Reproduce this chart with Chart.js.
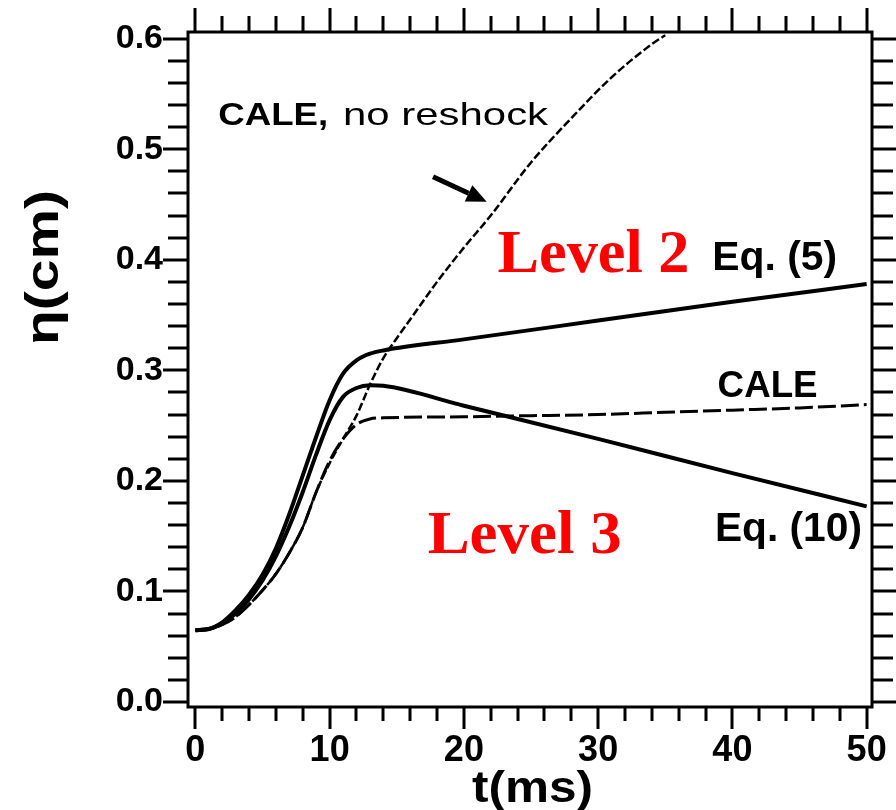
<!DOCTYPE html>
<html><head><meta charset="utf-8">
<script src="https://cdn.jsdelivr.net/npm/chart.js@4.4.0/dist/chart.umd.min.js"></script>
<style>html,body{margin:0;padding:0;background:#fff;}</style>
</head><body>
<canvas id="c" width="896" height="810"></canvas>
<script>
// ---- data (t in ms, eta in cm) ----
const tEq5 = [0,1,2,3,4,5,6,7,8,9,10,11,12,13,14,20,30,40,50];
const etaEq5 = [0.065,0.066,0.072,0.083,0.097,0.115,0.139,0.170,0.205,0.240,0.273,0.297,0.309,0.315,0.318,0.328,0.345,0.362,0.378];

const tEq10 = [0,1,2,3,4,5,6,7,8,9,10,11,12,13,14,20,30,40,50];
const etaEq10 = [0.065,0.066,0.071,0.080,0.093,0.110,0.132,0.159,0.190,0.224,0.255,0.276,0.284,0.2865,0.286,0.268,0.238,0.207,0.177];

const tCALE = [0,1,2,3,4,5,6,7,8,9,10,11,12,13,14,20,25,30,35,40,45,50];
const etaCALE = [0.065,0.066,0.070,0.077,0.088,0.101,0.116,0.135,0.158,0.190,0.218,0.238,0.251,0.256,0.257,0.258,0.259,0.260,0.262,0.264,0.266,0.269];

const tNoReshock = [0,1,2,3,4,5,6,7,8,9,10,11,12,13,14,15,16,18,20,22,25,28,31,34,35];
const etaNoReshock = [0.065,0.066,0.070,0.077,0.088,0.101,0.116,0.135,0.158,0.190,0.216,0.238,0.259,0.287,0.311,0.329,0.346,0.380,0.411,0.440,0.488,0.528,0.565,0.595,0.603];

const xMajorTicks = [0,10,20,30,40,50];
const xMinorTicks = [0,2,4,6,8,10,12,14,16,18,20,22,24,26,28,30,32,34,36,38,40,42,44,46,48,50];
const yMajorTicks = [0,0.1,0.2,0.3,0.4,0.5,0.6];
const yMinorTicks = [0,0.02,0.04,0.06,0.08,0.1,0.12,0.14,0.16,0.18,0.2,0.22,0.24,0.26,0.28,0.3,0.32,0.34,0.36,0.38,0.4,0.42,0.44,0.46,0.48,0.5,0.52,0.54,0.56,0.58,0.6];

const SANS = '"Liberation Sans", Arial, Helvetica, sans-serif';
const SERIF = '"Liberation Serif", "Times New Roman", serif';

function pts(ts, vs){ return ts.map((t,i)=>({x:t, y:vs[i]})); }

function fitText(ctx, str, font, left, baseline, width, color){
  ctx.save();
  ctx.font = font; ctx.fillStyle = color || '#000';
  ctx.textAlign = 'left'; ctx.textBaseline = 'alphabetic';
  const w = ctx.measureText(str).width;
  const sx = width / w;
  ctx.translate(left, baseline); ctx.scale(sx, 1);
  ctx.fillText(str, 0, 0);
  ctx.restore();
}

function noPad(s){ s.paddingTop = 0; s.paddingBottom = 0; s.paddingLeft = 0; s.paddingRight = 0; }

const decor = {
  id: 'decor',
  afterDraw(chart){
    const {ctx, chartArea:a, scales:{x, y}} = chart;
    ctx.save();
    ctx.strokeStyle = '#000'; ctx.lineWidth = 3; ctx.lineCap = 'butt';
    const L = (x1,y1,x2,y2)=>{ctx.beginPath();ctx.moveTo(x1,y1);ctx.lineTo(x2,y2);ctx.stroke();};
    for (const v of xMinorTicks){
      const px = Math.round(x.getPixelForValue(v));
      const maj = xMajorTicks.includes(v);
      L(px, a.bottom, px, a.bottom + (maj?22:14));
      L(px, a.top, px, a.top - (maj?24:16));
    }
    for (const v of yMinorTicks){
      const py = Math.round(y.getPixelForValue(v));
      const maj = yMajorTicks.some(m=>Math.abs(m-v)<1e-9);
      L(a.left, py, a.left - (maj?25:20), py);
      L(a.right, py, a.right + (maj?24:21), py);
    }
    ctx.strokeRect(a.left, a.top, a.right-a.left, a.bottom-a.top);

    // arrow
    const tx = x.getPixelForValue(17.7), ty = y.getPixelForValue(0.475);
    const hx = x.getPixelForValue(21.7), hy = y.getPixelForValue(0.4525);
    const ang = Math.atan2(hy-ty, hx-tx);
    const hl = 20, hw = 9;
    const bx = hx - hl*Math.cos(ang), by = hy - hl*Math.sin(ang);
    ctx.lineWidth = 5;
    L(tx, ty, bx, by);
    ctx.fillStyle = '#000';
    ctx.beginPath();
    ctx.moveTo(hx, hy);
    ctx.lineTo(bx + hw*Math.sin(ang), by - hw*Math.cos(ang));
    ctx.lineTo(bx - hw*Math.sin(ang), by + hw*Math.cos(ang));
    ctx.closePath(); ctx.fill();
    ctx.restore();

    // annotations
    const X = v=>x.getPixelForValue(v), Y = v=>y.getPixelForValue(v);
    fitText(ctx, 'CALE,', 'bold 32px '+SANS, X(1.7), Y(0.522), 110);
    fitText(ctx, 'no reshock', '32px '+SANS, X(11.0), Y(0.522), 205);
    fitText(ctx, 'Level 2', 'bold 62px '+SERIF, X(22.5), Y(0.389), 192, '#ff0000');
    fitText(ctx, 'Eq. (5)', 'bold 40px '+SANS, X(38.5), Y(0.391), 125);
    fitText(ctx, 'CALE', 'bold 36px '+SANS, X(38.9), Y(0.276), 100);
    fitText(ctx, 'Level 3', 'bold 62px '+SERIF, X(17.3), Y(0.135), 194, '#ff0000');
    fitText(ctx, 'Eq. (10)', 'bold 40px '+SANS, X(38.7), Y(0.146), 147);

    // axis titles
    fitText(ctx, 't(ms)', 'bold 44px '+SANS, 472, 802, 121);
    ctx.save();
    ctx.translate(58, 345); ctx.rotate(-Math.PI/2);
    fitText(ctx, 'η(cm)', 'bold 46px '+SANS, 0, 0, 155);
    ctx.restore();
  }
};

new Chart(document.getElementById('c'), {
  type: 'line',
  data: {
    datasets: [
      {label:'Eq. (5)', data: pts(tEq5, etaEq5), borderColor:'#000', borderWidth:4, pointRadius:0, cubicInterpolationMode:'monotone', fill:false},
      {label:'Eq. (10)', data: pts(tEq10, etaEq10), borderColor:'#000', borderWidth:4, pointRadius:0, cubicInterpolationMode:'monotone', fill:false},
      {label:'CALE', data: pts(tCALE, etaCALE), borderColor:'#000', borderWidth:3, borderDash:[18,5], pointRadius:0, cubicInterpolationMode:'monotone', fill:false},
      {label:'CALE, no reshock', data: pts(tNoReshock, etaNoReshock), borderColor:'#000', borderWidth:2.5, borderDash:[8,3], pointRadius:0, cubicInterpolationMode:'monotone', fill:false}
    ]
  },
  options: {
    responsive: false,
    animation: false,
    devicePixelRatio: 1,
    layout: { padding: 0 },
    plugins: { legend: {display:false}, tooltip: {enabled:false} },
    scales: {
      x: {
        type: 'linear', position: 'bottom', min: -0.55, max: 50.4,
        grid: { display:false, drawTicks:false },
        border: { display:false },
        afterBuildTicks: s => { s.ticks = xMajorTicks.map(v=>({value:v})); },
        afterFit: s => { s.height = 103; noPad(s); },
        ticks: { color:'#000', font:{family:SANS, size:36, weight:'bold'}, padding: 22, maxRotation:0, autoSkip:false,
                 callback: v => String(v) }
      },
      xTop: {
        type: 'linear', position: 'top', min: -0.55, max: 50.4,
        grid: { display:false, drawTicks:false },
        border: { display:false },
        ticks: { display:false },
        afterFit: s => { s.height = 32; noPad(s); }
      },
      y: {
        type: 'linear', position: 'left', min: -0.0045, max: 0.606,
        grid: { display:false, drawTicks:false },
        border: { display:false },
        afterBuildTicks: s => { s.ticks = yMajorTicks.map(v=>({value:v})); },
        afterFit: s => { s.width = 188; noPad(s); },
        ticks: { color:'#000', font:{family:SANS, size:34, weight:'bold'}, padding: 25, autoSkip:false,
                 callback: v => Number(v).toFixed(1) }
      },
      yRight: {
        type: 'linear', position: 'right', min: -0.0045, max: 0.606,
        grid: { display:false, drawTicks:false },
        border: { display:false },
        ticks: { display:false },
        afterFit: s => { s.width = 24; noPad(s); }
      }
    }
  },
  plugins: [decor]
});
</script>
</body></html>
